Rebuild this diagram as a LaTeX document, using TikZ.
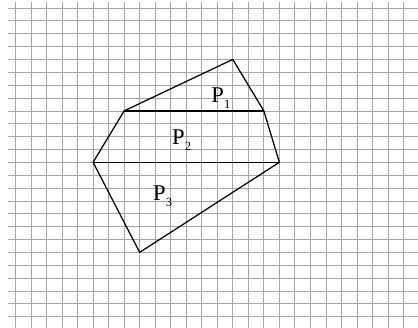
\documentclass[tikz,border=0pt]{standalone}
\usepackage{fontspec}
\setmainfont{Liberation Serif}
\tikzset{
  gridline/.style={draw={rgb,255:red,165;green,165;blue,165}, line width=0.75pt},
  edge/.style={draw=black, line width=1.25pt, line join=round, line cap=round},
  plabel/.style={anchor=base west, inner sep=0pt, font=\fontsize{22.5}{22.5}\selectfont}
}
\newcommand{\pname}[1]{P\kern0.3pt\raisebox{-6pt}{\fontsize{12.5}{12.5}\selectfont #1}}
\begin{document}
\begin{tikzpicture}[x=1pt,y=-1pt]
\useasboundingbox (0,0) rectangle (418,328);
\fill[white] (0,0) rectangle (418,328);
% grid
\foreach \i in {0,...,25}
  \draw[gridline] ({15.5+15.52*\i},2.5) -- ({15.5+15.52*\i},328);
\foreach \j in {0,...,24}
  \draw[gridline] (8,{8+12.86*\j}) -- (418,{8+12.86*\j});
% vertices
\coordinate (A) at ({15.5+15.52*14},{8+12.86*4});
\coordinate (B) at ({15.5+15.52*16},{8+12.86*8});
\coordinate (C) at ({15.5+15.52*17},{8+12.86*12});
\coordinate (D) at ({15.5+15.52*8},{8+12.86*19});
\coordinate (E) at ({15.5+15.52*5},{8+12.86*12});
\coordinate (F) at ({15.5+15.52*7},{8+12.86*8});
\draw[edge] (A) -- (B) -- (C) -- (D) -- (E) -- (F) -- cycle;
\draw[edge] (F) -- (B);
\draw[edge] (E) -- (C);
% labels
\node[plabel] (p1) at (211.2,102.3) {\pname{1}};
\node[plabel] (p2) at (171.8,144.3) {\pname{2}};
\node[plabel] (p3) at (152.8,200.3) {\pname{3}};
\end{tikzpicture}
\end{document}
